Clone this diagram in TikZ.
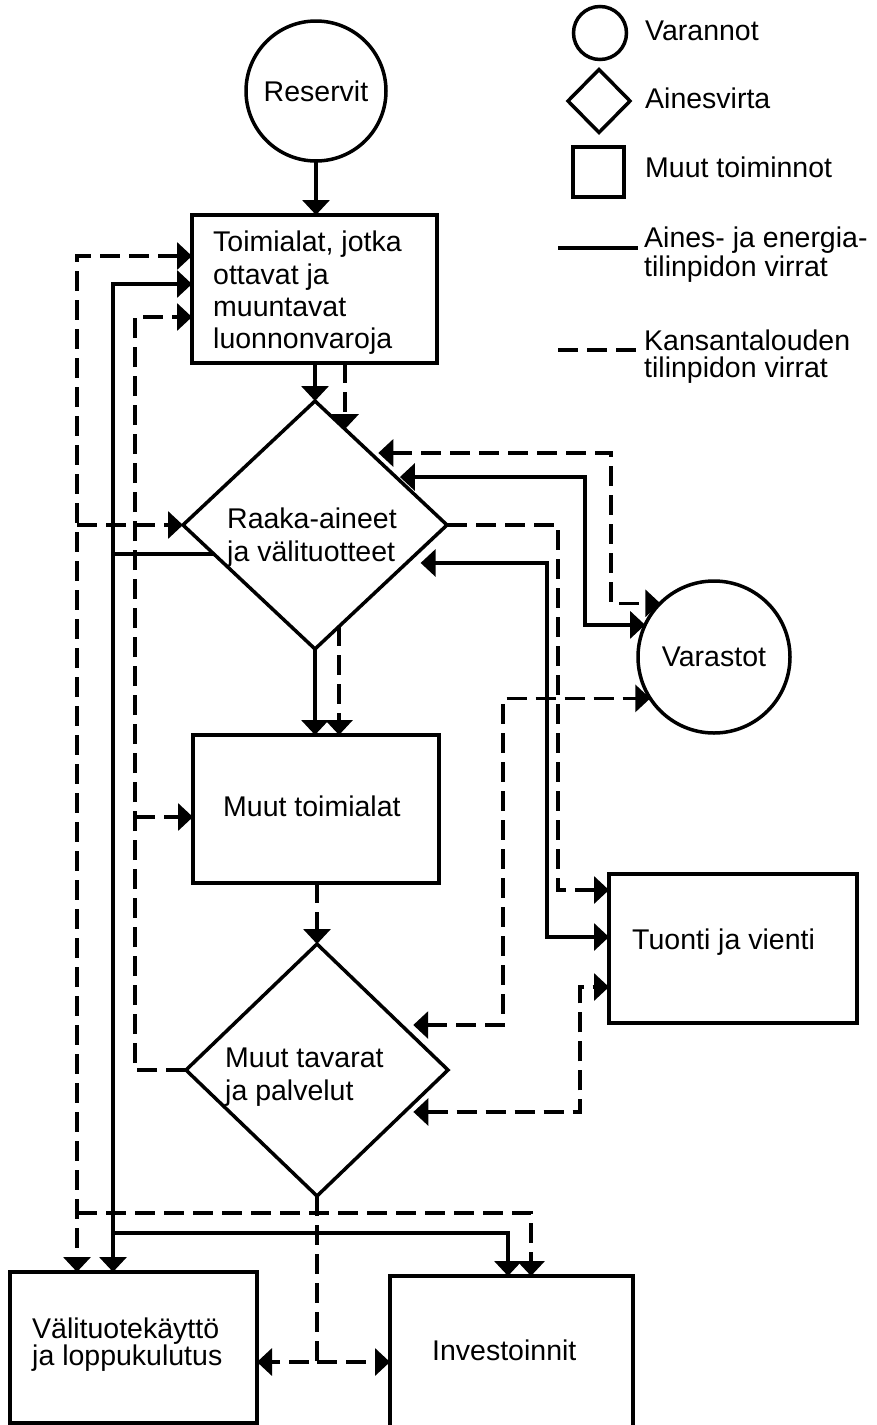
\documentclass[tikz,border=0pt]{standalone}
\usepackage{fontspec}
\setmainfont{Liberation Sans}
\usetikzlibrary{arrows.meta,calc,shapes.geometric}
\begin{document}
\begin{tikzpicture}[x=1pt,y=-1pt,
  every node/.style={font=\fontsize{28.5}{33}\selectfont},
  >={Triangle[length=15pt,width=27pt]},
  box/.style={draw,line width=3.5pt,rectangle,inner sep=0pt,outer sep=0pt},
  dia/.style={draw,line width=3.5pt,diamond,inner sep=0pt,outer sep=0pt},
  circ/.style={draw,line width=3.5pt,circle,inner sep=0pt,outer sep=0pt},
  lbl/.style={inner sep=0pt,align=left,anchor=north west,
              execute at begin node={\rule{0pt}{22pt}}},
  mat/.style={line width=3.5pt},
  nat/.style={mat,dash pattern=on 20pt off 9pt}]

\fill[white] (0,0) rectangle (877,1425);
\useasboundingbox (0,0) rectangle (877,1425);

% ---- main shapes ----
\node[circ,minimum size=140pt] (res) at (316,91) {Reservit};
\node[box,minimum width=245pt,minimum height=148pt] (toim) at (314.5,289) {};
\node[dia,minimum width=264pt,minimum height=248pt] (rd) at (315,525) {};
\node[box,minimum width=246pt,minimum height=148pt] (mt) at (316,809) {};
\node[dia,minimum width=262pt,minimum height=252pt] (md) at (317,1070) {};
\node[circ,minimum size=152pt] (var) at (714,657) {Varastot};
\node[box,minimum width=248pt,minimum height=149pt] (tv) at (733,948.5) {};
\node[box,minimum width=247pt,minimum height=151pt] (vk) at (133.5,1347.5) {};
\node[box,minimum width=243pt,minimum height=164pt] (inv) at (511.5,1358) {};

% ---- labels of the shapes ----
\node[lbl,font=\fontsize{28.5}{32.3}\selectfont] (toimT) at (213,231)
  {Toimialat, jotka\\ottavat ja\\muuntavat\\luonnonvaroja};
\node[lbl] (rdT) at (227,508) {Raaka-aineet\\ja välituotteet};
\node[lbl] (mtT) at (223,794) {Muut toimialat};
\node[lbl] (mdT) at (225,1048) {Muut tavarat\\ja palvelut};
\node[lbl] (tvT) at (632,927) {Tuonti ja vienti};
\node[lbl,font=\fontsize{28.5}{27}\selectfont] (vkT) at (32,1318)
  {Välituotekäyttö\\ja loppukulutus};
\node[lbl] (invT) at (432,1338) {Investoinnit};

% ---- legend ----
\node[circ,minimum size=53pt] (lc) at (600,33) {};
\node[dia,minimum width=62pt,minimum height=63pt] (ld) at (599,101) {};
\node[box,minimum width=51pt,minimum height=50pt] (lr) at (598.5,172) {};
\node[lbl] (lcT) at (645,18) {Varannot};
\node[lbl] (ldT) at (645,86) {Ainesvirta};
\node[lbl] (lrT) at (645,155) {Muut toiminnot};
\node[lbl,font=\fontsize{28.5}{28.5}\selectfont] (lsT) at (644,227)
  {Aines- ja energia-\\tilinpidon virrat};
\node[lbl,font=\fontsize{28.5}{26.5}\selectfont] (lnT) at (644,330)
  {Kansantalouden\\tilinpidon virrat};
\coordinate (lsA) at (558,248);
\coordinate (lsB) at (638,248);
\coordinate (lnA) at (558,350);
\coordinate (lnB) at (638,350);
\draw[mat] (lsA) -- (lsB);
\draw[nat] (lnA) -- (lnB);

% ---- guide lines for the buses ----
\coordinate (xO) at (77,0);
\coordinate (xS) at (113,0);
\coordinate (xI) at (135,0);
\coordinate (xW) at (503,0);
\coordinate (xTs) at (547,0);
\coordinate (xTd) at (558,0);
\coordinate (xU) at (580,0);
\coordinate (xV) at (585,0);
\coordinate (xVd) at (611,0);
\coordinate (yB) at (0,1213);
\coordinate (yC) at (0,1233);
\coordinate (yD) at (0,1362);

% ---- points on the diamond edges ----
\coordinate (dT) at ($(rd.north)!0.227!(rd.east)$);
\coordinate (rdA) at ($(rd.north)!0.419!(rd.east)$);
\coordinate (rdB) at ($(rd.north)!0.613!(rd.east)$);
\coordinate (rdC) at ($(rd.east)!0.306!(rd.south)$);
\coordinate (sA) at ($(rd.west)!0.234!(rd.south)$);
\coordinate (dM) at ($(rd.east)!0.818!(rd.south)$);
\coordinate (mdA) at ($(md.north)!0.643!(md.east)$);
\coordinate (mdB) at ($(md.east)!0.333!(md.south)$);

% ---- entry points on the boxes ----
\coordinate (tN) at ($(toim.west)+(0,-33)$);
\coordinate (tS) at ($(toim.west)+(0,-5)$);
\coordinate (tD) at ($(toim.west)+(0,28)$);
\coordinate (mIn) at ($(mt.west)+(0,8)$);
\coordinate (tA) at ($(tv.west)+(0,-58.5)$);
\coordinate (tB) at ($(tv.west)+(0,-11.5)$);
\coordinate (tC) at ($(tv.west)+(0,38.5)$);
\coordinate (iS) at ($(inv.north)+(-3.5,0)$);
\coordinate (iD) at ($(inv.north)+(19.5,0)$);
\coordinate (jB) at (md.south |- yD);

% ---- material and energy flows (solid) ----
\draw[mat,->] (res.south) -- (res.south |- toim.north);
\draw[mat,->] (rd.north |- toim.south) -- (rd.north);
\draw[mat,->] (rd.south) -- (rd.south |- mt.north);
\draw[mat,->] (sA) -| (xS |- tS) -- (tS);
\draw[mat,->] (sA -| xS) -- (xS |- vk.north);
\draw[mat,->] (xS |- yC) -| (iS);
\draw[mat,<->,shorten <=4pt] (rdB) -| (xV |- var.155) -- (var.155);
\draw[mat,<->,shorten <=14pt] (rdC) -| (xTs |- tB) -- (tB);

% ---- national accounts flows (dashed) ----
\draw[nat,->] (dT |- toim.south) -- (dT);
\draw[nat,<->] (tN) -| (xO |- vk.north);
\draw[nat,->] (xO |- rd.west) -- (rd.west);
\draw[nat,->] (xO |- yB) -| (iD);
\draw[nat,->] (md.west) -| (xI |- tD) -- (tD);
\draw[nat,->] (xI |- mIn) -- (mIn);
\draw[nat,->] (dM) -- (dM |- mt.north);
\draw[nat,->] (md.north |- mt.south) -- (md.north);
\draw[nat,<->,shorten <=8pt] (rdA) -| (xVd |- var.135) -- (var.135);
\draw[nat,->] (rd.east) -| (xTd |- tA) -- (tA);
\draw[nat,<->,shorten <=12pt] (mdA) -| (xW |- var.213) -- (var.213);
\draw[nat,<->,shorten <=9pt] (mdB) -| (xU |- tC) -- (tC);
\draw[nat,->] (md.south) -- (jB) -- (jB -| vk.east);
\draw[nat,->] (jB) -- (jB -| inv.west);
\end{tikzpicture}
\end{document}
